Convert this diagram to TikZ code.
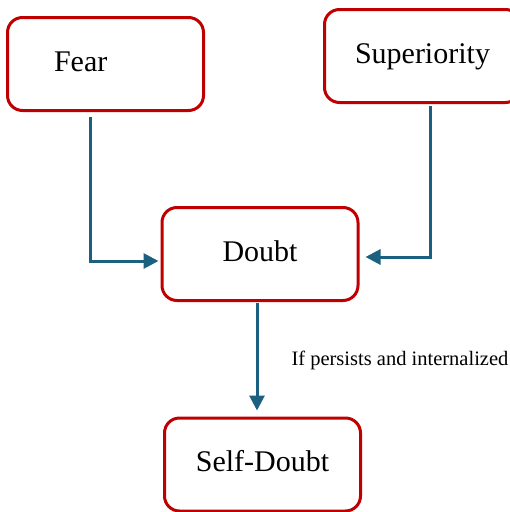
\documentclass[tikz,border=0pt]{standalone}
\usepackage{fontspec}
\setmainfont{Liberation Serif}
\usetikzlibrary{arrows.meta}
\definecolor{boxred}{RGB}{192,0,0}
\definecolor{arrblue}{RGB}{28,96,128}
\begin{document}
\begin{tikzpicture}[x=1pt,y=-1pt,
  box/.style={draw=boxred, line width=3pt, rounded corners=15pt, fill=white,
    minimum width=196pt, minimum height=93pt, text height=20pt, text depth=6pt,
    font=\fontsize{30}{34}\selectfont, inner sep=0pt},
  arr/.style={draw=arrblue, line width=3pt, -{Triangle[length=15pt,width=15pt]}},
  lbl/.style={font=\fontsize{20.5}{24}\selectfont, inner sep=0pt}]
\clip (0,0) rectangle (510,512);
\fill[white] (0,0) rectangle (510,512);
\node[box, text width=103pt, align=left, inner xsep=46.5pt] (fear) at (105.5,64) {Fear};
\node[box] (sup) at (422.5,56) {Superiority};
\node[box] (doubt) at (260,254) {Doubt};
\node[box] (self) at (262.5,464.5) {Self-Doubt};
\draw[arr] ([xshift=-15.5pt,yshift=-5pt]fear.south) |- ([xshift=-2pt,yshift=-7pt]doubt.west);
\draw[arr] ([xshift=7.5pt,yshift=-2pt]sup.south) |- ([xshift=6pt,yshift=-3pt]doubt.east);
\draw[arr] ([xshift=-3pt,yshift=-1pt]doubt.south) -- ([xshift=-5.5pt,yshift=6pt]self.north)
  node[lbl, pos=0.58, anchor=base west, xshift=33pt, text=black] {If persists and internalized};
\end{tikzpicture}
\end{document}
